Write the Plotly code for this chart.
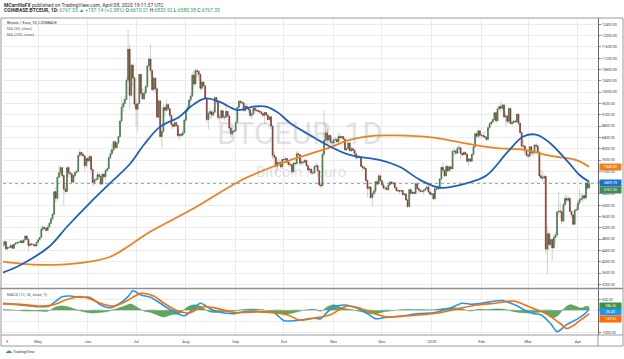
import plotly.graph_objects as go
import pandas as pd

# ---------------- daily candles (EUR), 2019-04-09 .. 2020-04-08 ----------------
first_open = 4550
close_apr19 = [4600,4710,4460,4510,4510,4590,4480,4620,4660,4680,4690,4740,4680,4770,4910,4800,4580,4630,4620,4600,4560,4690]
high_apr19 = [4640,4780,4730,4540,4560,4620,4600,4650,4700,4720,4720,4770,4750,4800,4950,4930,4810,4680,4660,4640,4620,4710]
low_apr19 = [4510,4580,4410,4430,4460,4480,4450,4460,4600,4630,4640,4660,4640,4660,4760,4760,4360,4540,4570,4560,4510,4550]

close_may19 = [4780,4860,5150,5220,5190,5110,5230,5360,5520,5680,6480,6250,6990,7150,7330,7050,6570,6490,7330,7150,7110,6820,7050,7160,7200,7760,7870,7800,7750,7400,7660]
high_may19 = [4800,4880,5270,5300,5250,5230,5300,5400,5560,5740,6500,6650,7000,7420,7400,7350,7050,6720,7370,7380,7200,7150,7090,7190,7260,7870,7990,7900,7880,7750,7690]
low_may19 = [4670,4760,4850,5090,5120,5080,5100,5210,5340,5450,5640,6100,6160,6970,6990,6980,6000,6400,6490,7000,6960,6770,6780,6950,7120,7190,7700,7720,7700,7200,7330]

close_jun19 = [7570,7730,7270,6810,6890,6910,7080,7020,6750,7100,7010,7230,7290,7690,7820,7960,8250,8040,8200,8430,8980,9470,9600,9740,10420,11520,9890,10950,10500,9580]
high_jun19 = [7680,7760,7740,7280,6970,6990,7170,7150,7060,7150,7130,7270,7340,7720,7960,8180,8300,8270,8240,8450,8990,9830,9740,9870,10520,12210,11700,11000,11020,10550]
low_jun19 = [7470,7540,7170,6670,6690,6790,6890,6970,6670,6750,6940,6880,7180,7280,7620,7800,7900,7960,7990,8160,8420,8940,9280,9480,9720,10360,9400,9830,10220,9450]

close_jul19 = [9400,9600,10630,9960,9760,9970,10200,10930,11170,10760,10090,10500,10120,9120,9690,8430,8610,9460,9360,9560,9410,9180,8850,8790,8920,8820,8460,8510,8480,8560,9010]
high_jul19 = [9780,9620,10640,10630,10150,10100,10250,10960,11250,11700,10830,10540,10500,10180,9740,9720,8770,9590,9470,9760,9620,9420,9190,8910,9050,8940,8820,8560,8560,8650,9050]
low_jul19 = [8790,8580,9590,9870,9730,9720,9900,10150,10870,10550,10040,10010,9950,9050,9080,8400,8050,8560,9150,9310,9330,9080,8710,8680,8770,8770,8400,8300,8410,8440,8530]

close_aug19 = [9340,9450,9720,9860,10600,10290,10760,10740,10630,10140,10360,10220,9780,9030,9250,9310,9190,9290,9810,9670,9110,9100,9340,9110,9110,9320,9160,8730,8530,8610,8630]
high_aug19 = [9390,9550,9760,9980,10690,10770,10830,10840,10720,10650,10400,10370,10250,9790,9330,9440,9350,9420,9860,9830,9680,9230,9410,9380,9190,9600,9330,9190,8780,8700,8680]
low_aug19 = [8910,9300,9410,9600,9850,10120,10260,10500,10420,10030,10080,10170,9740,8930,8690,9060,9060,9130,9290,9570,9040,8950,9030,9050,8980,9110,9110,8640,8410,8480,8540]

close_sep19 = [8930,9460,9680,9640,9620,9350,9500,9440,9380,9180,9230,9430,9360,9360,9320,9300,9240,9180,9280,9190,9030,9130,8800,7770,7700,7380,7510,7510,7360,7620]
high_sep19 = [8970,9480,9760,9710,9690,9640,9570,9590,9470,9390,9290,9460,9450,9420,9380,9390,9330,9270,9300,9300,9220,9150,9140,8830,7890,7750,7590,7660,7560,7640]
low_sep19 = [8600,8920,9420,9560,9550,9300,9320,9380,9260,9090,9050,9170,9280,9300,9260,9220,9180,9130,8860,9150,9010,8990,8780,7620,7420,7100,7240,7420,7300,7280]

close_oct19 = [7610,7650,7520,7440,7430,7180,7490,7470,7820,7790,7490,7530,7520,7590,7400,7250,7280,7140,7140,7370,7400,7220,6720,6690,7800,8300,8560,8310,8470,8240,8210]
high_oct19 = [7740,7680,7660,7550,7480,7490,7520,7590,7900,7930,7810,7640,7590,7650,7600,7410,7330,7300,7230,7400,7520,7440,7240,6780,7920,9360,8900,8720,8520,8480,8340]
low_oct19 = [7560,7540,7430,7350,7370,7130,7130,7410,7430,7650,7390,7420,7440,7490,7370,7180,7180,7070,7080,7100,7330,7180,6660,6610,6660,7710,8200,8200,8250,8150,8000]

close_nov19 = [8320,8330,8250,8430,8390,8430,8340,7960,8000,8200,7930,8000,7950,7820,7680,7700,7700,7380,7340,7300,6880,6600,6640,6270,6410,6500,6830,6750,7040,6870]
high_nov19 = [8360,8420,8370,8560,8520,8460,8460,8360,8050,8260,8240,8080,8060,7970,7840,7760,7780,7710,7420,7390,7320,6910,6710,6690,6470,6580,6880,6900,7110,7070]
low_nov19 = [8150,8260,8180,8210,8330,8350,8300,7920,7920,7970,7900,7880,7900,7780,7600,7650,7630,7350,7230,7240,6860,6300,6520,6220,5960,6320,6400,6680,6740,6820]

close_dec19 = [6720,6610,6610,6550,6720,6820,6780,6790,6630,6520,6510,6500,6520,6370,6400,6190,5950,6550,6420,6460,6420,6760,6590,6530,6490,6490,6530,6580,6650,6470,6390]
high_dec19 = [6880,6760,6680,6700,6790,6870,6850,6840,6830,6650,6580,6560,6570,6540,6420,6410,6210,6600,6580,6500,6470,6790,6820,6640,6560,6550,6580,6620,6720,6660,6520]
low_dec19 = [6690,6560,6520,6520,6510,6680,6740,6720,6600,6480,6460,6410,6470,6340,6340,6150,5910,5940,6370,6380,6380,6410,6570,6450,6460,6450,6380,6500,6570,6430,6320]

close_jan20 = [6410,6230,6580,6580,6590,6930,7340,7240,7040,7370,7220,7360,7290,7910,7920,7840,8020,8030,7840,7790,7870,7810,7560,7640,7560,7800,8070,8530,8440,8630,8480]
high_jan20 = [6460,6420,6640,6660,6710,6960,7380,7520,7250,7430,7440,7380,7360,7970,8020,7950,8100,8140,8070,7860,7910,7920,7820,7670,7670,7820,8120,8540,8620,8700,8680]
low_jan20 = [6330,6170,6220,6510,6540,6570,6900,7140,7000,7020,7180,7190,7230,7280,7740,7760,7820,7940,7650,7710,7750,7770,7480,7400,7520,7540,7780,8040,8390,8360,8390]

close_feb20 = [8470,8440,8410,8330,8740,8880,8940,9030,9270,8990,9410,9490,9430,9550,9130,9160,8970,9420,8890,8920,8980,8950,9220,8900,8570,8090,8090,7940,7770]
high_feb20 = [8530,8560,8620,8450,8770,8950,8980,9070,9300,9330,9440,9560,9680,9560,9560,9280,9170,9460,9450,9010,9060,9020,9270,9230,8920,8590,8340,8150,8000]
low_feb20 = [8390,8370,8360,8270,8290,8700,8780,8880,9000,8910,8930,9350,9280,9350,9060,8800,8880,8890,8850,8810,8880,8900,8910,8820,8520,7970,7890,7770,7700]

close_mar20 = [7740,8070,7850,7850,8130,8100,7880,7040,6970,6960,7020,4450,4990,4610,4790,4490,4870,4950,5760,5790,5770,5440,6030,6240,6180,6240,5780,5660,5330,5830,5850]
high_mar20 = [7850,8100,8110,7920,8170,8200,8150,7890,7250,7200,7090,7040,5270,5050,4990,4800,4980,5060,5820,6480,6090,5860,6090,6380,6360,6310,6310,5790,5680,5880,5990]
low_mar20 = [7650,7680,7770,7710,7810,8010,7830,6950,6890,6860,6800,4300,3550,4410,4560,4050,4470,4650,4850,5650,5500,5330,5400,5960,6080,6100,5760,5540,5300,5300,5780]

close_apr20 = [6080,6200,6230,6340,6260,6790,6610.21,6767.35]
high_apr20 = [6190,6560,6450,6420,6360,6830,6870,6833.92]
low_apr20 = [5760,6010,6130,6110,6160,6200,6550,6580.38]

# ---------------- indicators ----------------
ma50_dates = ['2019-04-09','2019-04-20','2019-05-08','2019-05-19','2019-06-02','2019-06-15','2019-06-27','2019-07-06',
              '2019-07-16','2019-07-28','2019-08-04','2019-08-13','2019-08-22','2019-09-02','2019-09-12','2019-09-20',
              '2019-09-28','2019-10-05','2019-10-17','2019-10-28','2019-11-11','2019-11-30','2019-12-12','2019-12-25',
              '2020-01-06','2020-01-23','2020-02-04','2020-02-17','2020-02-27','2020-03-06','2020-03-14','2020-03-25',
              '2020-04-02','2020-04-08']
ma50_vals = [3620,3890,4540,5240,6070,6790,7450,8150,8780,9130,9490,9780,9660,9370,9490,9490,
             9250,8900,8490,8130,7780,7600,7360,6890,6620,6780,7050,7870,8430,8500,8230,7590,7070,6830]

ma200_dates = ['2019-04-09','2019-04-24','2019-05-10','2019-05-29','2019-06-15','2019-06-29','2019-07-10','2019-08-04',
               '2019-09-06','2019-09-28','2019-10-05','2019-10-28','2019-11-11','2019-11-27','2019-12-09','2020-01-01',
               '2020-01-22','2020-02-12','2020-02-27','2020-03-15','2020-03-31','2020-04-08']
ma200_vals = [4010,3920,3890,3970,4180,4660,5070,5830,6930,7450,7600,8010,8310,8460,8470,8400,8190,8010,7970,7750,7600,7360]

macd_dates = ['2019-04-09','2019-04-13','2019-04-20','2019-05-02','2019-05-08','2019-05-16','2019-05-21','2019-05-27',
              '2019-06-02','2019-06-09','2019-06-15','2019-06-21','2019-06-26','2019-06-29','2019-07-04','2019-07-10',
              '2019-07-16','2019-07-23','2019-07-31','2019-08-06','2019-08-10','2019-08-17','2019-08-23','2019-08-31',
              '2019-09-09','2019-09-17','2019-09-25','2019-10-01','2019-10-08','2019-10-19','2019-10-24','2019-10-28',
              '2019-11-01','2019-11-08','2019-11-16','2019-11-22','2019-11-27','2019-12-02','2019-12-13','2019-12-24',
              '2020-01-03','2020-01-12','2020-01-20','2020-01-26','2020-02-01','2020-02-14','2020-02-22','2020-02-28',
              '2020-03-04','2020-03-09','2020-03-15','2020-03-19','2020-03-25','2020-03-29','2020-04-02','2020-04-05',
              '2020-04-08']
macd_vals = [320,290,240,160,200,620,650,590,590,240,120,320,620,890,700,590,320,0,-250,90,320,40,-100,-150,
             -30,-70,-110,-470,-470,-360,-380,-80,150,240,80,-150,-380,-340,-260,-150,-100,80,320,270,320,440,240,0,
             -150,-200,-600,-970,-650,-500,-330,-170,36.43]

signal_dates = ['2019-04-09','2019-04-20','2019-05-02','2019-05-10','2019-05-19','2019-05-27','2019-06-02','2019-06-09',
                '2019-06-17','2019-06-24','2019-07-04','2019-07-12','2019-07-18','2019-07-27','2019-08-03','2019-08-11',
                '2019-08-19','2019-08-31','2019-09-17','2019-10-03','2019-10-11','2019-10-21','2019-10-30','2019-11-09',
                '2019-11-18','2019-11-26','2019-12-04','2019-12-15','2020-01-05','2020-01-18','2020-01-29','2020-02-10',
                '2020-02-21','2020-03-02','2020-03-12','2020-03-21','2020-03-25','2020-03-29','2020-04-02','2020-04-05',
                '2020-04-08']
signal_vals = [290,270,190,240,490,620,530,320,190,380,770,650,340,-30,-120,150,110,-100,-70,-200,-450,-340,-200,190,
               80,-150,-300,-260,-120,80,240,320,420,150,-150,-600,-830,-700,-480,-320,-149.83]

hist_dates = ['2019-04-09','2019-04-16','2019-04-22','2019-05-01','2019-05-07','2019-05-12','2019-05-16','2019-05-21',
              '2019-05-25','2019-05-29','2019-06-03','2019-06-08','2019-06-13','2019-06-18','2019-06-24','2019-06-28',
              '2019-07-02','2019-07-06','2019-07-10','2019-07-14','2019-07-18','2019-07-23','2019-07-28','2019-08-02',
              '2019-08-06','2019-08-10','2019-08-15','2019-08-20','2019-08-25','2019-08-30','2019-09-05','2019-09-10',
              '2019-09-15','2019-09-20','2019-09-26','2019-10-01','2019-10-05','2019-10-10','2019-10-15','2019-10-20',
              '2019-10-24','2019-10-28','2019-11-01','2019-11-06','2019-11-12','2019-11-18','2019-11-23','2019-11-28',
              '2019-12-03','2019-12-10','2019-12-15','2019-12-22','2019-12-28','2020-01-03','2020-01-08','2020-01-14',
              '2020-01-19','2020-01-25','2020-01-30','2020-02-05','2020-02-10','2020-02-15','2020-02-20','2020-02-25',
              '2020-03-01','2020-03-06','2020-03-10','2020-03-13','2020-03-17','2020-03-20','2020-03-23','2020-03-27',
              '2020-03-30','2020-04-03','2020-04-06','2020-04-08']
hist_vals = [30,10,-30,-30,-40,150,200,130,20,-60,-120,-100,-60,50,200,280,120,-30,-90,-200,-300,-200,-150,150,
             250,180,-50,-100,-60,-40,20,60,40,0,-100,-180,-150,-60,20,40,-40,150,250,120,20,-60,-150,-150,
             -60,0,30,30,20,30,80,120,80,-30,40,30,60,50,-40,-100,-120,-100,-80,-200,-330,-200,50,250,
             200,100,170,186.26]

month_ticks = ['2019-05-01','2019-06-01','2019-07-01','2019-08-01','2019-09-01','2019-10-01','2019-11-01',
               '2019-12-01','2020-01-01','2020-02-01','2020-03-01','2020-04-01']
month_labels = ['May','Jun','Jul','Aug','Sep','Oct','Nov','Dec','2020','Feb','Mar','Apr']
price_ticks = list(range(3200, 12401, 400))
price_hidden = [6800]          # label covered by the price badges
macd_ticks = [500, 0, -500, -1000]
macd_hidden = [0, -500]        # labels covered by the MACD badges

# ---------------- assemble ----------------
close = (close_apr19 + close_may19 + close_jun19 + close_jul19 + close_aug19 + close_sep19 + close_oct19 +
         close_nov19 + close_dec19 + close_jan20 + close_feb20 + close_mar20 + close_apr20)
high = (high_apr19 + high_may19 + high_jun19 + high_jul19 + high_aug19 + high_sep19 + high_oct19 +
        high_nov19 + high_dec19 + high_jan20 + high_feb20 + high_mar20 + high_apr20)
low = (low_apr19 + low_may19 + low_jun19 + low_jul19 + low_aug19 + low_sep19 + low_oct19 +
       low_nov19 + low_dec19 + low_jan20 + low_feb20 + low_mar20 + low_apr20)
n = min(len(close), len(high), len(low))
close, high, low = close[:n], high[:n], low[:n]
opens = [first_open] + close[:-1]
high = [max(h, o, c) for h, o, c in zip(high, opens, close)]
low = [min(l, o, c) for l, o, c in zip(low, opens, close)]
dates = pd.date_range('2019-04-09', periods=n, freq='D')
body_hi = [max(o, c) for o, c in zip(opens, close)]
body_lo = [min(o, c) for o, c in zip(opens, close)]

W, H = 624, 359
L, R, T, B = 3, 26, 18, 24
PW, PH = W - L - R, H - T - B


def px(xp):
    return (xp - L) / PW


def py(yp):
    return (H - B - yp) / PH


FONT = 'Roboto'
GRID = '#ececec'

fig = go.Figure()
wick = '#bdbdbd'
fig.add_trace(go.Candlestick(
    x=dates, open=opens, high=high, low=low, close=close, xaxis='x', yaxis='y',
    increasing=dict(line=dict(color=wick, width=0.7), fillcolor=wick),
    decreasing=dict(line=dict(color=wick, width=0.7), fillcolor=wick),
    hoverinfo='skip', showlegend=False))
fig.add_trace(go.Candlestick(
    x=dates, open=opens, high=body_hi, low=body_lo, close=close, xaxis='x', yaxis='y',
    increasing=dict(line=dict(color='#2f6b3a', width=0.6), fillcolor='#5fa565'),
    decreasing=dict(line=dict(color='#7d2b22', width=0.6), fillcolor='#b54a3c'),
    hoverinfo='skip', showlegend=False))
fig.add_trace(go.Scatter(x=ma200_dates, y=ma200_vals, mode='lines', xaxis='x', yaxis='y',
                         line=dict(color='#f0821e', width=1.8, shape='spline', smoothing=1.0), showlegend=False))
fig.add_trace(go.Scatter(x=ma50_dates, y=ma50_vals, mode='lines', xaxis='x', yaxis='y',
                         line=dict(color='#1f5fbf', width=1.8, shape='spline', smoothing=1.0), showlegend=False))

fig.add_trace(go.Scatter(x=hist_dates, y=hist_vals, mode='lines', xaxis='x2', yaxis='y2', fill='tozeroy',
                         fillcolor='rgba(70,150,70,0.85)', line=dict(color='rgba(60,140,60,0.9)', width=0.5, shape='spline'),
                         showlegend=False))
fig.add_trace(go.Scatter(x=macd_dates, y=macd_vals, mode='lines', xaxis='x2', yaxis='y2',
                         line=dict(color='#2196f3', width=1.6, shape='spline', smoothing=0.8), showlegend=False))
fig.add_trace(go.Scatter(x=signal_dates, y=signal_vals, mode='lines', xaxis='x2', yaxis='y2',
                         line=dict(color='#ff6d00', width=1.6, shape='spline', smoothing=0.8), showlegend=False))

xr = ['2019-04-09 04:00', '2020-04-13 12:00']
main_bottom = py(288)
macd_top = py(289)

fig.update_layout(
    width=W, height=H, margin=dict(l=L, r=R, t=T, b=B), paper_bgcolor='white', plot_bgcolor='white',
    font=dict(family=FONT, color='#333', size=4),
    xaxis=dict(domain=[0, 1], anchor='y', range=xr, tickvals=month_ticks, showticklabels=False, ticks='',
               showgrid=True, gridcolor=GRID, gridwidth=1, zeroline=False, rangeslider=dict(visible=False),
               showline=False, fixedrange=True, automargin=False),
    xaxis2=dict(domain=[0, 1], anchor='y2', range=xr, tickvals=month_ticks, ticktext=month_labels, ticks='',
                showgrid=True, gridcolor=GRID, gridwidth=1, zeroline=False, showline=False, automargin=False,
                tickfont=dict(size=4, color='#444', family=FONT), ticklabelstandoff=3),
    yaxis=dict(domain=[main_bottom, 1], anchor='x', range=[3074, 12623], side='right', tickvals=price_ticks,
               ticktext=['' if v in price_hidden else f'{v:.2f}' for v in price_ticks], showgrid=True,
               gridcolor=GRID, gridwidth=1, automargin=False,
               zeroline=False, ticks='outside', ticklen=2, tickcolor='#888', showline=True, linecolor='#666',
               linewidth=1, tickfont=dict(size=3.6, color='#444', family=FONT)),
    yaxis2=dict(domain=[0, macd_top], anchor='x2', range=[-1123, 968], side='right', tickvals=macd_ticks,
                ticktext=['' if v in macd_hidden else f'{v:.2f}' for v in macd_ticks], showgrid=True,
                gridcolor=GRID, gridwidth=1, automargin=False,
                zeroline=False, ticks='outside', ticklen=2, tickcolor='#888', showline=True, linecolor='#666',
                linewidth=1, tickfont=dict(size=3.6, color='#444', family=FONT)),
)

shapes = []
shapes.append(dict(type='line', xref='paper', yref='y', x0=0, x1=1, y0=close[-1], y1=close[-1],
                   line=dict(color='rgba(70,130,90,0.8)', width=0.8, dash='dot')))
shapes.append(dict(type='line', xref='paper', yref='y2', x0=0, x1=1, y0=0, y1=0,
                   line=dict(color='rgba(60,140,60,0.8)', width=1.2, dash='dash'), layer='below'))
shapes.append(dict(type='line', xref='paper', yref='paper', x0=px(0), x1=px(623), y0=py(288.5), y1=py(288.5),
                   line=dict(color='#8f8f8f', width=1.5)))
frame = '#9a9a9a'
for (x0, y0, x1, y1) in [(1, 18, 623, 18), (1, 18, 1, 346), (623, 18, 623, 346), (1, 335, 623, 335),
                         (1, 346, 623, 346), (598, 335, 598, 346)]:
    shapes.append(dict(type='line', xref='paper', yref='paper', x0=px(x0), x1=px(x1), y0=py(y0), y1=py(y1),
                       line=dict(color=frame, width=1)))
fig.update_layout(shapes=shapes)

ann = []


def text(xp, yp, s, size=4, color='#333', xanchor='left', **kw):
    ann.append(dict(xref='paper', yref='paper', x=px(xp), y=py(yp), text=s, showarrow=False,
                    xanchor=xanchor, yanchor='middle', font=dict(size=size, color=color, family=FONT), **kw))


g = '#26a65b'
text(2, 4.5, '<b>MCarrilloFX</b> published on TradingView.com, April 08, 2020 19:11:37 UTC', size=5, color='#333')
text(2, 11, f"<b>COINBASE:BTCEUR, 1D:</b> <span style='color:{g}'>6767.35 ▲ +157.14 (+2.38%)</span> "
            f"O:<span style='color:{g}'>6610.21</span> H:<span style='color:{g}'>6833.92</span> "
            f"L:<span style='color:{g}'>6580.38</span> C:<span style='color:{g}'>6767.35</span>", size=5, color='#333')
text(5, 22.5, 'Bitcoin / Euro, 1D, COINBASE', size=3.9, color='#333')
text(5, 28.5, 'MA (50, close)', size=3.9, color='#666')
text(5, 34.3, 'MA (200, close)', size=3.9, color='#666')
text(5, 294.5, 'MACD (12, 26, close, 9)', size=3.9, color='#555')
text(300, 133, 'BTCEUR, 1D', size=31, color='rgba(140,140,140,0.26)', xanchor='center')
text(301, 172, 'Bitcoin / Euro', size=15, color='rgba(140,140,140,0.26)', xanchor='center')
text(3.5, 341, '9', size=4, color='#444')
text(3, 351, '☁', size=7, color='#2a8fd8')
text(11, 351.5, 'TradingView', size=3.9, color='#333')


def badge(yp, s, bg):
    ann.append(dict(xref='paper', yref='paper', x=px(610.5), y=py(yp), text=s, showarrow=False,
                    xanchor='center', yanchor='middle', bgcolor=bg, width=21, height=5.5, borderpad=0,
                    font=dict(size=3.6, color='white', family=FONT)))


badge(166.7, '7346.92', '#f0821e')
badge(183.3, '6809.70', '#1f6fd0')
badge(190.0, '6767.35', '#3f8a55')
badge(306.0, '186.26', '#3f9142')
badge(312.3, '36.43', '#2196f3')
badge(319.0, '-149.83', '#ff6d00')
fig.update_layout(annotations=ann)

fig.write_html('out.html', config={'displayModeBar': False, 'staticPlot': True},
               post_script="document.body.style.margin='0';document.body.style.overflow='hidden';")
